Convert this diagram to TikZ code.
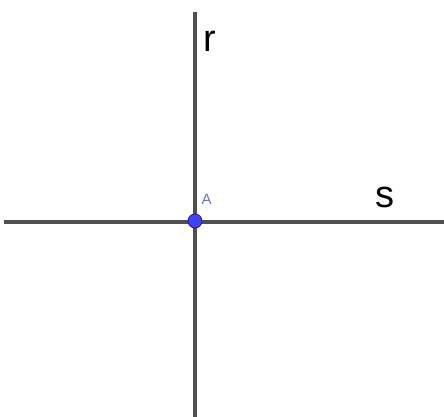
\documentclass[tikz,border=0pt]{standalone}
\usepackage{fontspec}
\setmainfont{Liberation Sans}
\definecolor{linegray}{RGB}{80,80,80}
\definecolor{ptblue}{RGB}{64,64,255}
\definecolor{ptedge}{RGB}{30,30,140}
\definecolor{lblblue}{RGB}{110,110,230}
\begin{document}
\begin{tikzpicture}[x=1pt,y=-1pt,
  lineseg/.style={draw=linegray,line width=3.2pt},
  lbl/.style={inner sep=0pt,font=\fontsize{38}{38}\selectfont}]
\useasboundingbox (0,0) rectangle (444,417);
\coordinate (rtop) at (195,12);
\coordinate (rbot) at (195,417);
\coordinate (sleft) at (4,222);
\coordinate (sright) at (444,222);
\draw[lineseg] (rtop) -- (rbot);
\draw[lineseg] (sleft) -- (sright);
\node[circle,fill=ptblue,draw=ptedge,line width=0.8pt,minimum size=14pt,inner sep=0pt] (A) at (195,221) {};
\node[inner sep=0pt,text=lblblue,font=\fontsize{15}{15}\selectfont,anchor=base] (Alab) at (206.5,204) {A};
\node[lbl,anchor=base] (r) at (210,52) {r};
\node[lbl,anchor=base] (s) at (385,207) {s};
\end{tikzpicture}
\end{document}
